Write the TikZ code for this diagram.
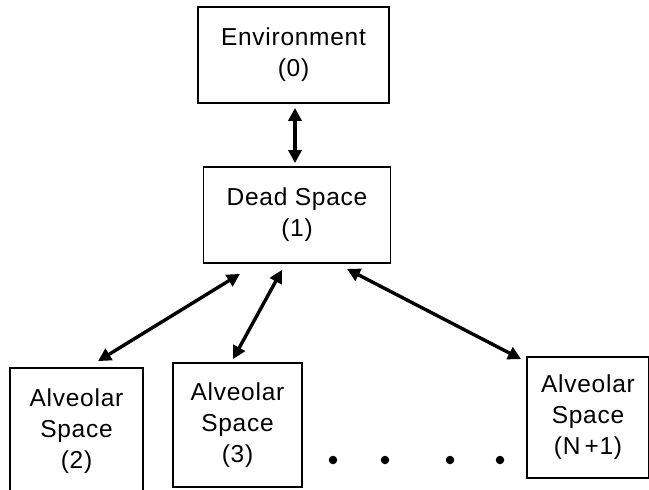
\documentclass[tikz,border=0pt]{standalone}
\usepackage{fontspec}
\setmainfont{Liberation Sans}[LetterSpace=3]
\usetikzlibrary{arrows.meta,calc}
\tikzset{
  box/.style={draw, line width=1.8pt, inner sep=0pt, align=center,
    font=\fontsize{24.5}{31}\selectfont},
  link/.style={line width=3.4pt, {Triangle[length=13pt,width=13pt]}-{Triangle[length=13pt,width=13pt]}},
  dot/.style={circle, fill, inner sep=0pt, minimum size=8.5pt}
}
\begin{document}
\begin{tikzpicture}[x=1pt, y=-1pt]
  \useasboundingbox (0,0) rectangle (649,490);
  \begin{scope}
    \clip (0,0) rectangle (649,490);
    \node[box, minimum width=191pt, minimum height=96pt] (env) at (293.5,55) {Environment\\(0)};
    \node[box, minimum width=187pt, minimum height=96pt] (dead) at (297,215) {Dead Space\\(1)};
    \node[box, minimum width=133pt, minimum height=126pt] (alv2) at (76.5,431) {Alveolar\\Space\\(2)};
    \node[box, minimum width=129pt, minimum height=124pt] (alv3) at (237.5,425) {Alveolar\\Space\\(3)};
    \node[box, minimum width=122pt, minimum height=121pt] (alvn) at (588,417.5) {Alveolar\\Space\\(N\,+1)};
  \end{scope}

  % exchange paths
  \coordinate (e1) at ($(env.south)+(1.5,4)$);
  \coordinate (d0) at ($(dead.north)+(-2,-3)$);
  \draw[link] (e1) -- (d0);

  \coordinate (d2) at ($(dead.south)+(-57,10)$);
  \coordinate (a2) at ($(alv2.north)+(21.5,-6)$);
  \draw[link] (d2) -- (a2);

  \coordinate (d3) at ($(dead.south)+(-15,6)$);
  \coordinate (a3) at ($(alv3.north)+(-4.5,-3)$);
  \draw[link] (d3) -- (a3);

  \coordinate (dn) at ($(dead.south)+(50,5)$);
  \coordinate (an) at ($(alvn.north west)+(-5,3)$);
  \draw[link] (dn) -- (an);

  % ellipsis between the alveolar spaces
  \node[dot] (p1) at (333,460) {};
  \node[dot] (p2) at (385,460) {};
  \node[dot] (p3) at (450,460) {};
  \node[dot] (p4) at (500,460) {};
\end{tikzpicture}
\end{document}
